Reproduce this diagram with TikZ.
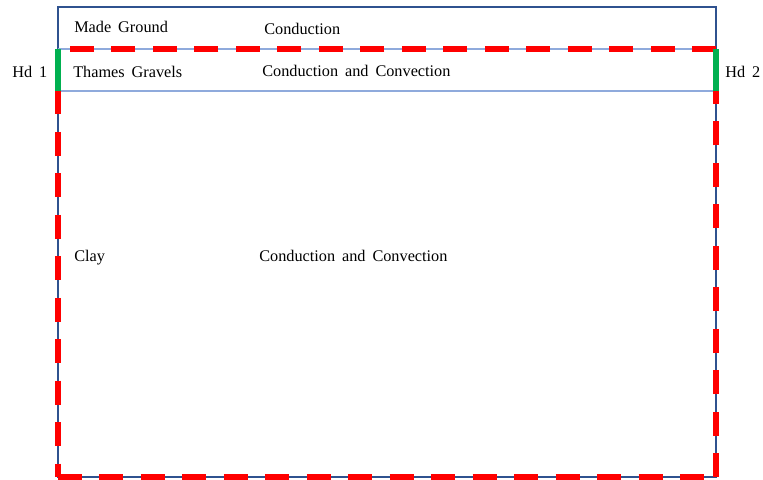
\documentclass[tikz,border=0pt]{standalone}
\usepackage{fontspec}
\setmainfont{Liberation Serif}[WordSpace=1.7]
\definecolor{edgeblue}{RGB}{47,82,143}
\definecolor{layerblue}{RGB}{143,170,220}
\definecolor{hdgreen}{RGB}{0,176,80}

\begin{document}
\begin{tikzpicture}[x=0.75pt, y=-0.75pt,
  lbl/.style={anchor=base west, inner sep=0pt, font=\fontsize{12.2}{14}\selectfont},
  bound/.style={draw=edgeblue, line width=1.5pt},
  layer/.style={draw=layerblue, line width=1pt},
  zone/.style={draw=red, line width=3.8pt, dash pattern=on 18pt off 13.1pt},
  hd/.style={draw=hdgreen, line width=3.8pt}]
\useasboundingbox (0,0) rectangle (763,479);
% ground layers
\draw[bound] (58,7) rectangle (716,477);
\draw[layer] (58,49) -- (716,49);
\draw[layer] (58,91) -- (716,91);
% heated zone
\draw[zone] (716,49) -- (58,49);
\draw[zone] (58,477) -- (716,477);
\draw[zone] (58,49) -- (58,477);
\draw[zone] (716,477) -- (716,49);
\draw[hd] (58,49) -- (58,91);
\draw[hd] (716,49) -- (716,91);
% labels
\node[lbl] (made) at (74,32) {Made Ground};
\node[lbl] (cond) at (264,34) {Conduction};
\node[lbl] (hdone) at (12,77) {Hd 1};
\node[lbl] (thames) at (73,77) {Thames Gravels};
\node[lbl] (gravconv) at (262,76) {Conduction and Convection};
\node[lbl] (hdtwo) at (725,77) {Hd 2};
\node[lbl] (clay) at (74,261) {Clay};
\node[lbl] (clayconv) at (259,261) {Conduction and Convection};
\end{tikzpicture}
\end{document}
